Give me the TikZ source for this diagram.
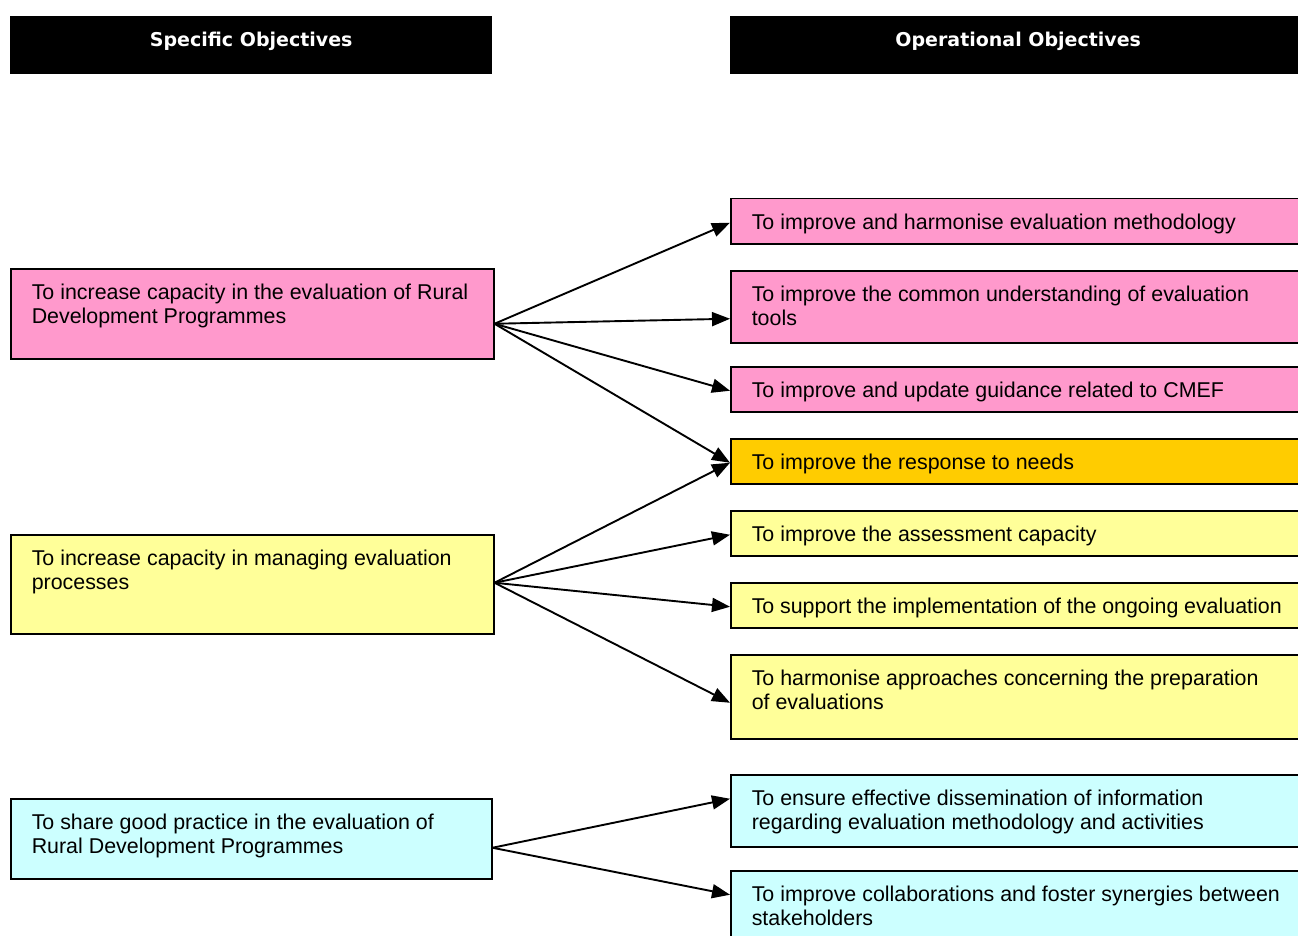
\documentclass[tikz,border=0pt]{standalone}
\usepackage{fontspec}
\setmainfont{Liberation Sans}
\newfontfamily\headfont{DejaVu Sans}
\usetikzlibrary{arrows.meta}
\definecolor{pinkc}{HTML}{FF99CC}
\definecolor{yellowc}{HTML}{FFFF99}
\definecolor{cyanc}{HTML}{CCFFFF}
\definecolor{orangec}{HTML}{FFCC00}
\newcommand{\boxtext}[4]{\parbox[c][#2pt][t]{#1pt}{\raggedright\rule{0pt}{#3pt}#4}}
\begin{document}
\begin{tikzpicture}[x=1pt,y=-1pt,
  objbox/.style={draw=black, line width=1.5pt, rectangle, inner xsep=21pt, inner ysep=0pt,
    anchor=north west, font=\fontsize{21.4}{24}\selectfont, text=black},
  headbox/.style={fill=black, rectangle, inner sep=0pt, anchor=north west,
    font=\headfont\bfseries\fontsize{19}{22}\selectfont, text=white},
  arr/.style={line width=1.9pt, -{Triangle[length=18pt,width=14pt]}}]
\useasboundingbox (0,0) rectangle (1298,936);
\fill[white] (0,0) rectangle (1298,936);
% headers
\node[headbox] (H1) at (10,16) {\parbox[c][58pt][t]{482pt}{\centering\rule{0pt}{30pt}Specific Objectives}};
\node[headbox] (H2) at (730,16) {\parbox[c][58pt][t]{576pt}{\centering\rule{0pt}{30pt}Operational Objectives}};
% specific objectives
\node[objbox, fill=pinkc] (S1) at (10,268) {\boxtext{441}{90}{31}{To increase capacity in the evaluation of Rural\\Development Programmes}};
\node[objbox, fill=yellowc] (S2) at (10,534) {\boxtext{441}{99}{31}{To increase capacity in managing evaluation\\processes}};
\node[objbox, fill=cyanc] (S3) at (10,798) {\boxtext{439}{80}{31}{To share good practice in the evaluation of\\Rural Development Programmes}};
% operational objectives
\node[objbox, fill=pinkc] (O1) at (730,198) {\boxtext{530}{45}{31}{To improve and harmonise evaluation methodology}};
\node[objbox, fill=pinkc] (O2) at (730,270) {\boxtext{530}{72}{31}{To improve the common understanding of evaluation\\tools}};
\node[objbox, fill=pinkc] (O3) at (730,366) {\boxtext{530}{45}{31}{To improve and update guidance related to CMEF}};
\node[objbox, fill=orangec] (O4) at (730,438) {\boxtext{530}{45}{31}{To improve the response to needs}};
\node[objbox, fill=yellowc] (O5) at (730,510) {\boxtext{530}{45}{31}{To improve the assessment capacity}};
\node[objbox, fill=yellowc] (O6) at (730,582) {\boxtext{530}{45}{31}{To support the implementation of the ongoing evaluation}};
\node[objbox, fill=yellowc] (O7) at (730,654) {\boxtext{530}{84}{31}{To harmonise approaches concerning the preparation\\of evaluations}};
\node[objbox, fill=cyanc] (O8) at (730,774) {\boxtext{530}{72}{31}{To ensure effective dissemination of information\\regarding evaluation methodology and activities}};
\node[objbox, fill=cyanc] (O9) at (730,870) {\boxtext{530}{72}{31}{To improve collaborations and foster synergies between\\stakeholders}};
% connector end points
\coordinate (s1) at ([yshift=-10pt]S1.east);
\coordinate (s2) at ([yshift=1.5pt]S2.east);
\coordinate (s3) at ([yshift=-9pt]S3.east);
\draw[arr] (s1) -- ([yshift=-1.5pt]O1.west);
\draw[arr] (s1) -- ([yshift=-12pt]O2.west);
\draw[arr] (s1) -- ([yshift=-1.5pt]O3.west);
\draw[arr] (s1) -- ([yshift=-1.5pt]O4.west);
\draw[arr] (s2) -- ([yshift=-1.5pt]O4.west);
\draw[arr] (s2) -- ([yshift=-1.5pt]O5.west);
\draw[arr] (s2) -- ([yshift=-1.5pt]O6.west);
\draw[arr] (s2) -- ([yshift=-6pt]O7.west);
\draw[arr] (s3) -- ([yshift=12pt]O8.west);
\draw[arr] (s3) -- ([yshift=12pt]O9.west);
\end{tikzpicture}
\end{document}
